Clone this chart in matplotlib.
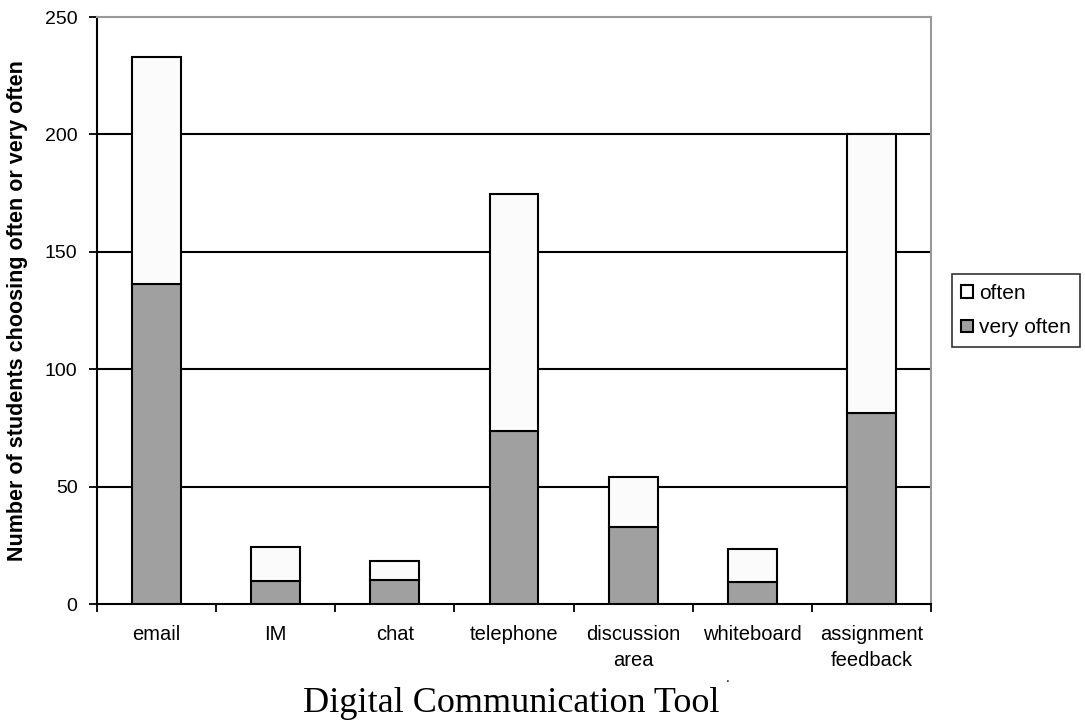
import numpy as np
import matplotlib.pyplot as plt

plt.rcParams['font.family'] = ['Liberation Sans', 'DejaVu Sans']

# Students choosing each tool "very often" and "often"
tools = ["email", "IM", "chat", "telephone", "discussion\narea",
         "whiteboard", "assignment\nfeedback"]
very_often = [136.5, 9.7, 10.4, 73.9, 32.6, 9.4, 81.4]
often = [96.5, 14.7, 8.1, 100.8, 21.7, 14.1, 118.9]

fig = plt.figure(figsize=(10.85, 7.28), dpi=100)
ax = fig.add_axes([0.0894, 0.1703, 0.7686, 0.8063])

x = np.arange(len(tools))
w = 0.41
ax.bar(x, very_often, w, color="#a0a0a0", edgecolor="black", linewidth=1.5,
       label="very often", zorder=3)
ax.bar(x, often, w, bottom=very_often, color="#fbfbfb", edgecolor="black",
       linewidth=1.5, label="often", zorder=3)

ax.set_xlim(-0.5, len(tools) - 0.5)
ax.set_ylim(0, 250)
ax.set_yticks([0, 50, 100, 150, 200, 250])
ax.set_xticks(np.arange(len(tools) + 1) - 0.5, minor=False)
ax.set_xticklabels([])
ax.set_xticks(x, minor=True)
ax.set_xticklabels(tools, minor=True, fontsize=14.5, linespacing=1.5)
ax.tick_params(axis="x", which="minor", length=0, pad=15)
ax.tick_params(axis="x", which="major", length=6, width=1.3, direction="out")
ax.tick_params(axis="y", length=6, width=1.3, direction="out", labelsize=14,
               pad=8)

for v in [50, 100, 150, 200]:
    ax.axhline(v, color="black", linewidth=1.5, zorder=1)

ax.spines["left"].set_linewidth(1.5)
ax.spines["bottom"].set_linewidth(1.5)
for s in ["top", "right"]:
    ax.spines[s].set_color("#999999")
    ax.spines[s].set_linewidth(1.5)

ax.set_ylabel("Number of students choosing often or very often",
              fontsize=15.5, fontweight="bold", labelpad=12)

handles, labels = ax.get_legend_handles_labels()
leg = ax.legend(handles[::-1], labels[::-1], loc="center left",
                bbox_to_anchor=(1.025, 0.5), frameon=True, fancybox=False,
                edgecolor="black", fontsize=15, handlelength=0.55,
                handleheight=0.55, handletextpad=0.3, borderpad=0.45,
                labelspacing=0.75, borderaxespad=0)
leg.get_frame().set_linewidth(1.2)

fig.text(0.471, 0.033, "Digital Communication Tool", ha="center",
         va="center", fontsize=26, family="Liberation Serif")
fig.text(0.671, 0.068, ".", ha="center", va="center", fontsize=10)

fig.savefig("out.png", dpi=100)
